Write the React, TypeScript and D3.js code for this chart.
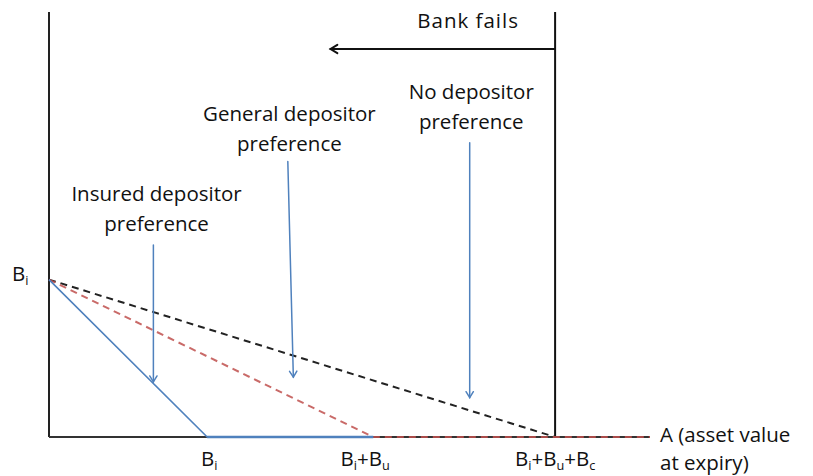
import React from "react";
import * as d3 from "d3";

// Threshold labels on the asset-value axis (x in units of B_i)
const xTickValues = [1, 2.05, 3.2];
const xTickLabels = [
  [["B", ""], ["i", "sub"]],
  [["B", ""], ["i", "sub"], ["+B", ""], ["u", "sub"]],
  [["B", ""], ["i", "sub"], ["+B", ""], ["u", "sub"], ["+B", ""], ["c", "sub"]],
];
const yTickValues = [1];
const yTickLabels = [[["B", ""], ["i", "sub"]]];

// Payoff series (asset value, payoff to insured deposits)
const insuredX = [0, 1, 2.05];
const insuredY = [1, 0, 0];
const generalX = [0, 2.05, 3.8];
const generalY = [1, 0, 0];
const noPrefX = [0, 3.2];
const noPrefY = [1, 0];

const bankFailsX = 3.2;

const W = 813;
const H = 476;
const x = d3.scaleLinear().domain([0, 3.8]).range([49, 650]);
const y = d3.scaleLinear().domain([0, 2.7]).range([437, 12]);

const line = d3
  .line<[number, number]>()
  .x((d) => x(d[0]))
  .y((d) => y(d[1]));

const zip = (a: number[], b: number[]) => a.map((v, i) => [v, b[i]] as [number, number]);

const FONT = "'Open Sans', Lato, sans-serif";
const FS = 20.5;
const TXT = "#111";
const BLUE = "#4f81bd";
const RED = "#c0504d";

function SubText({ parts, xPos, yPos, anchor = "middle", size = FS }: any) {
  let shifted = false;
  return (
    <text x={xPos} y={yPos} textAnchor={anchor} fontFamily={FONT} fontSize={size} fill={TXT}>
      {parts.map(([t, k]: [string, string], i: number) => {
        let dy = 0;
        if (k === "sub" && !shifted) {
          dy = 4;
          shifted = true;
        } else if (k !== "sub" && shifted) {
          dy = -4;
          shifted = false;
        }
        return (
          <tspan key={i} dy={dy} fontSize={k === "sub" ? size * 0.62 : size}>
            {t}
          </tspan>
        );
      })}
    </text>
  );
}

function Arrow({ x1, y1, x2, y2, color, w = 1.5, head = 7 }: any) {
  const a = Math.atan2(y2 - y1, x2 - x1);
  const s = 0.55;
  const p1 = [x2 - head * Math.cos(a - s), y2 - head * Math.sin(a - s)];
  const p2 = [x2 - head * Math.cos(a + s), y2 - head * Math.sin(a + s)];
  return (
    <g stroke={color} strokeWidth={w} fill="none" strokeLinecap="round">
      <line x1={x1} y1={y1} x2={x2} y2={y2} />
      <polyline points={`${p1[0]},${p1[1]} ${x2},${y2} ${p2[0]},${p2[1]}`} />
    </g>
  );
}

export default function App() {
  return (
    <svg
      width={W}
      height={H}
      style={{ position: "absolute", left: 0, top: 0, background: "#fff" }}
    >
      {/* axes */}
      <line x1={x(0)} y1={y(2.7)} x2={x(0)} y2={y(0)} stroke="#222" strokeWidth={2} />
      <line x1={x(0)} y1={y(0)} x2={x(3.8)} y2={y(0)} stroke="#333" strokeWidth={2} />

      {/* bank fails boundary */}
      <line x1={x(bankFailsX)} y1={y(2.7)} x2={x(bankFailsX)} y2={y(0)} stroke="#111" strokeWidth={2} />
      <Arrow x1={x(bankFailsX)} y1={y(2.465)} x2={x(1.78)} y2={y(2.465)} color="#111" w={2} head={8} />
      <text x={x(2.65)} y={y(2.6)} textAnchor="middle" fontFamily={FONT} fontSize={FS} fill={TXT} letterSpacing={1}>
        Bank fails
      </text>

      {/* series */}
      <path d={line(zip(noPrefX, noPrefY))!} fill="none" stroke="#222" strokeWidth={2} strokeDasharray="7 5" />
      <path d={line(zip(generalX, generalY))!} fill="none" stroke={RED} strokeWidth={2} strokeDasharray="7 5" opacity={0.85} />
      <path d={line(zip(insuredX, insuredY))!} fill="none" stroke={BLUE} strokeWidth={1.6} />
      <line x1={x(1)} y1={y(0)} x2={x(2.05)} y2={y(0)} stroke={BLUE} strokeWidth={2.5} />

      {/* annotations */}
      <text x={x(0.68)} y={y(1.5)} textAnchor="middle" fontFamily={FONT} fontSize={FS} fill={TXT}>
        <tspan x={x(0.68)}>Insured depositor</tspan>
        <tspan x={x(0.68)} dy={30}>preference</tspan>
      </text>
      <Arrow x1={x(0.66)} y1={y(1.22)} x2={x(0.66)} y2={y(0.35)} color={BLUE} />

      <text x={x(1.52)} y={y(2.01)} textAnchor="middle" fontFamily={FONT} fontSize={FS} fill={TXT}>
        <tspan x={x(1.52)}>General depositor</tspan>
        <tspan x={x(1.52)} dy={30}>preference</tspan>
      </text>
      <Arrow x1={x(1.51)} y1={y(1.75)} x2={x(1.545)} y2={y(0.38)} color={BLUE} />

      <text x={x(2.67)} y={y(2.15)} textAnchor="middle" fontFamily={FONT} fontSize={FS} fill={TXT}>
        <tspan x={x(2.67)}>No depositor</tspan>
        <tspan x={x(2.67)} dy={30}>preference</tspan>
      </text>
      <Arrow x1={x(2.66)} y1={y(1.87)} x2={x(2.66)} y2={y(0.25)} color={BLUE} />

      {/* tick labels */}
      {xTickValues.map((v, i) => (
        <SubText key={i} parts={xTickLabels[i]} xPos={x(v) - (i === 1 ? 8 : i === 0 ? -2 : 0)} yPos={y(0) + 29} />
      ))}
      {yTickValues.map((v, i) => (
        <SubText key={i} parts={yTickLabels[i]} xPos={12} yPos={y(v) + 1} anchor="start" />
      ))}

      {/* axis title */}
      <text x={660} y={y(0) + 5} fontFamily={FONT} fontSize={FS} fill={TXT}>
        <tspan x={660}>A (asset value</tspan>
        <tspan x={660} dy={28}>at expiry)</tspan>
      </text>
    </svg>
  );
}
